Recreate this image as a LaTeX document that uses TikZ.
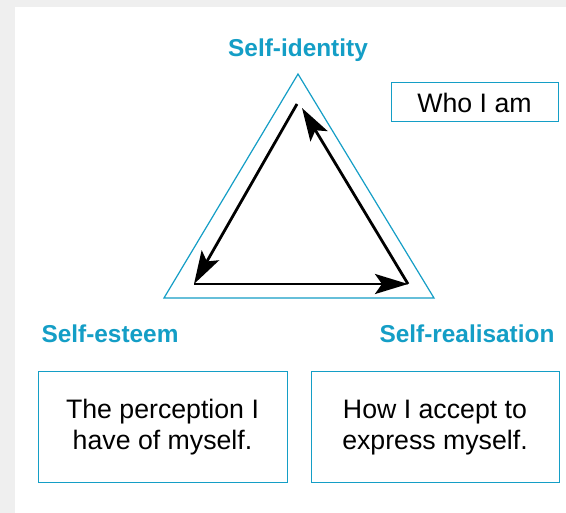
\documentclass[tikz,border=0pt]{standalone}
\usepackage{fontspec}
\setmainfont{Liberation Sans}
\usetikzlibrary{arrows.meta}

\definecolor{selfblue}{RGB}{20,158,198}
\definecolor{panelgray}{RGB}{239,239,239}

\begin{document}
\begin{tikzpicture}[x=1pt,y=-1pt]

      \useasboundingbox (0,0) rectangle (566,513);
      \fill[panelgray] (0,0) rectangle (566,513);
      \fill[white] (15,7) rectangle (566,513);

      % outer triangle
      \draw[selfblue,line width=1.2pt,line join=miter] (298,74) -- (164,298) -- (434,298) -- cycle;

      \begin{scope}[every node/.style={text=selfblue,font=\bfseries\fontsize{24.4}{29}\selectfont}]
        \node[anchor=base] (ident) at (298,57) {Self-identity};
        \node[anchor=base west] (esteem) at (38,343) {Self-esteem};
        \node[anchor=base east] (real) at (558,343) {Self-realisation};
      \end{scope}

      \begin{scope}[every node/.style={draw=selfblue,line width=1pt,align=center,inner sep=0pt,
          font=\fontsize{26.7}{31}\selectfont}]
        \node[minimum width=167pt,minimum height=39pt] (who) at (474.5,102.5) {Who I am};
        \node[minimum width=249pt,minimum height=111pt] (perc) at (162.5,427.5) {The perception I\\have of myself.};
        \node[minimum width=248pt,minimum height=111pt] (expr) at (435,427.5) {How I accept to\\express myself.};
      \end{scope}

      \coordinate (top) at (297,104);
      \coordinate (toptip) at (302,108);
      \coordinate (left) at (194,284);
      \coordinate (right) at (408,284);

      \begin{scope}[line width=2.8pt,>={Stealth[length=33pt,width=20pt,inset=7pt]}]
        \draw[->] (top) -- (left);
        \draw[->] (left) -- (right);
        \draw[->] (right) -- (toptip);
      \end{scope}

    \end{tikzpicture}
\end{document}
